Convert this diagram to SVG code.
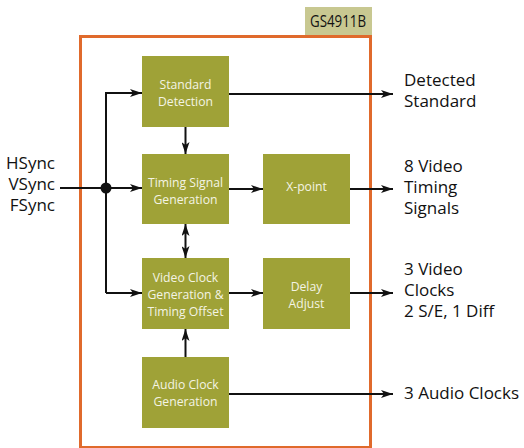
<svg xmlns="http://www.w3.org/2000/svg" width="524" height="448" viewBox="0 0 524 448">
<style>
.box{fill:#9fa237}
.bt{font-family:"Open Sans","Noto Sans",sans-serif;font-size:12.2px;fill:#f4f4e4;text-anchor:middle}
.lt{font-family:"Open Sans","Noto Sans",sans-serif;font-size:17px;fill:#111}
.ln{stroke:#111;stroke-width:2;fill:none}
</style>
<defs>
<marker id="ah" viewBox="0 0 12 8" refX="12" refY="4" markerWidth="12" markerHeight="8" markerUnits="userSpaceOnUse" orient="auto-start-reverse">
<path d="M0,0 L12,4 L0,8 L3,4 Z" fill="#111"/>
</marker>
</defs>
<rect width="524" height="448" fill="#fff"/>
<g id="chip">
<rect x="305" y="7" width="67" height="28" fill="#c8c891"/>
<text x="310" y="27" font-family="'Open Sans','Noto Sans',sans-serif" font-size="16" fill="#111" textLength="56" lengthAdjust="spacingAndGlyphs">GS4911B</text>
<rect x="80.5" y="36.5" width="290" height="411" fill="none" stroke="#e06a2c" stroke-width="3"/>
</g>
<g id="connectors">
<path class="ln" d="M60,188 H142" marker-end="url(#ah)"/>
<path class="ln" d="M106,293 V93 H142" marker-end="url(#ah)"/>
<path class="ln" d="M106,293 H142" marker-end="url(#ah)"/>
<circle cx="106" cy="188" r="5.5" fill="#111"/>
<path class="ln" d="M185.5,127 V154" marker-end="url(#ah)"/>
<path class="ln" d="M185.5,224 V258" marker-start="url(#ah)" marker-end="url(#ah)"/>
<path class="ln" d="M185.5,357 V329" marker-end="url(#ah)"/>
<path class="ln" d="M229,189 H263" marker-end="url(#ah)"/>
<path class="ln" d="M229,293 H263" marker-end="url(#ah)"/>
<path class="ln" d="M229,94 H393" marker-end="url(#ah)"/>
<path class="ln" d="M350,189 H393" marker-end="url(#ah)"/>
<path class="ln" d="M350,293 H393" marker-end="url(#ah)"/>
<path class="ln" d="M229,394 H393" marker-end="url(#ah)"/>
</g>
<g id="standard-detection">
<rect class="box" x="142" y="56" width="87" height="71"/>
<text class="bt" x="185.5" y="88.5">Standard</text>
<text class="bt" x="185.5" y="105.5">Detection</text>
</g>
<g id="timing-signal-generation">
<rect class="box" x="142" y="154" width="87" height="70"/>
<text class="bt" x="185.5" y="186.5">Timing Signal</text>
<text class="bt" x="185.5" y="203.5">Generation</text>
</g>
<g id="x-point">
<rect class="box" x="263" y="154" width="87" height="70"/>
<text class="bt" x="306.5" y="191">X-point</text>
</g>
<g id="video-clock-generation">
<rect class="box" x="142" y="258" width="87" height="71"/>
<text class="bt" x="185.5" y="282">Video Clock</text>
<text class="bt" x="185.5" y="299">Generation &amp;</text>
<text class="bt" x="185.5" y="316">Timing Offset</text>
</g>
<g id="delay-adjust">
<rect class="box" x="263" y="258" width="87" height="71"/>
<text class="bt" x="306.5" y="290.5">Delay</text>
<text class="bt" x="306.5" y="307.5">Adjust</text>
</g>
<g id="audio-clock-generation">
<rect class="box" x="142" y="357" width="87" height="71"/>
<text class="bt" x="185.5" y="388.5">Audio Clock</text>
<text class="bt" x="185.5" y="405.5">Generation</text>
</g>
<g id="labels">
<text class="lt" x="55" y="169" text-anchor="end">HSync</text>
<text class="lt" x="55" y="190" text-anchor="end">VSync</text>
<text class="lt" x="55" y="211" text-anchor="end">FSync</text>
<text class="lt" x="404" y="86">Detected</text>
<text class="lt" x="404" y="107">Standard</text>
<text class="lt" x="404" y="172">8 Video</text>
<text class="lt" x="404" y="193">Timing</text>
<text class="lt" x="404" y="214">Signals</text>
<text class="lt" x="404" y="275">3 Video</text>
<text class="lt" x="404" y="296">Clocks</text>
<text class="lt" x="404" y="317">2 S/E, 1 Diff</text>
<text class="lt" x="404" y="399">3 Audio Clocks</text>
</g>
</svg>
